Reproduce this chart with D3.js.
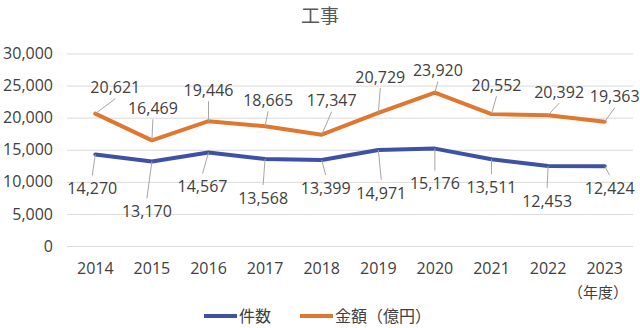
<!DOCTYPE html>
<html>
<head>
<meta charset="utf-8">
<script src="https://cdn.jsdelivr.net/npm/d3@7"></script>
<style>
  html, body { margin: 0; padding: 0; background: #fff; }
  svg { display: block; font-family: "Open Sans", "Noto Sans CJK JP", sans-serif; }
</style>
</head>
<body>
<svg id="chart" width="640" height="328"></svg>
<script>
// 工事: 件数 and 金額 by fiscal year
const years = ["2014", "2015", "2016", "2017", "2018", "2019", "2020", "2021", "2022", "2023"];
const counts = [14270, 13170, 14567, 13568, 13399, 14971, 15176, 13511, 12453, 12424];
const amounts = [20621, 16469, 19446, 18665, 17347, 20729, 23920, 20552, 20392, 19363];
const yTicks = [0, 5000, 10000, 15000, 20000, 25000, 30000];
const seriesNames = ["件数", "金額（億円）"];

// label placement relative to each point (px)
const countLabelOffsets = [[-3, 34], [-5, 50], [-6, 34], [-2, 39], [4, 28], [3, 43], [0, 35], [0, 28], [-1, 35], [5, 22]];
const amountLabelOffsets = [[20, -26], [1, -32], [0, -31], [3, -26], [10, -34], [2, -36], [3, -22], [5, -29], [11, -23], [10, -25]];

const colors = { count: "#3f51a5", amount: "#e0772f", grid: "#d9d9d9", text: "#404040", leader: "#a6a6a6" };

const svg = d3.select("#chart");
const plotLeft = 67, plotRight = 633, plotTop = 53.5, plotBottom = 246;

const x = d3.scaleBand().domain(years).range([plotLeft, plotRight]);
const y = d3.scaleLinear().domain([0, 30000]).range([plotBottom, plotTop]);
const cx = d => x(d) + x.bandwidth() / 2;
const fmt = d3.format(",");

// title
svg.append("text")
  .attr("x", 320).attr("y", 23)
  .attr("text-anchor", "middle")
  .attr("font-family", "'Noto Sans CJK JP', sans-serif")
  .attr("font-size", 19)
  .attr("fill", "#595959")
  .text("工事");

// gridlines + y axis labels
const yAxis = d3.axisLeft(y).tickValues(yTicks).tickFormat(fmt)
  .tickSize(-(plotRight - plotLeft)).tickPadding(14);
const gy = svg.append("g").attr("transform", `translate(${plotLeft},0)`).call(yAxis);
gy.select(".domain").remove();
gy.selectAll(".tick line").attr("stroke", colors.grid).attr("stroke-width", 1);
gy.selectAll(".tick text")
  .attr("font-size", 16).attr("fill", colors.text)
  .attr("font-family", "'Open Sans', sans-serif");

// x axis labels
const xAxis = d3.axisBottom(x).tickSize(0).tickPadding(17);
const gx = svg.append("g").attr("transform", `translate(0,${plotBottom})`).call(xAxis);
gx.select(".domain").remove();
gx.selectAll(".tick text")
  .attr("font-size", 16).attr("fill", colors.text)
  .attr("font-family", "'Open Sans', sans-serif");

svg.append("text")
  .attr("x", 598).attr("y", 298)
  .attr("text-anchor", "middle")
  .attr("font-family", "'Noto Sans CJK JP', sans-serif")
  .attr("font-size", 15).attr("fill", colors.text)
  .text("（年度）");

// series
const series = [
  { key: "amount", values: amounts, offsets: amountLabelOffsets, color: colors.amount },
  { key: "count", values: counts, offsets: countLabelOffsets, color: colors.count }
];

const line = d3.line().x(d => cx(d.year)).y(d => y(d.value));

series.forEach(s => {
  const pts = years.map((yr, i) => ({ year: yr, value: s.values[i], off: s.offsets[i] }));
  svg.append("path")
    .datum(pts)
    .attr("d", line)
    .attr("fill", "none")
    .attr("stroke", s.color)
    .attr("stroke-width", 4)
    .attr("stroke-linejoin", "round")
    .attr("stroke-linecap", "round");

  const g = svg.append("g");
  pts.forEach(p => {
    const px = cx(p.year), py = y(p.value);
    const lx = px + p.off[0], ly = py + p.off[1];
    const above = p.off[1] < 0;
    // leader line from point to label edge
    const ey = above ? ly + 11 : ly - 13;
    if (Math.abs(ey - py) > 4) {
      g.append("line")
        .attr("x1", px).attr("y1", py)
        .attr("x2", lx).attr("y2", ey)
        .attr("stroke", colors.leader).attr("stroke-width", 1);
    }
    g.append("text")
      .attr("x", lx).attr("y", ly)
      .attr("dy", "0.35em")
      .attr("text-anchor", "middle")
      .attr("font-size", 16)
      .attr("fill", colors.text)
      .text(fmt(p.value));
  });
});

// legend
const legend = svg.append("g").attr("transform", "translate(0,316)");
const legendItems = [
  { name: seriesNames[0], color: colors.count, x: 204 },
  { name: seriesNames[1], color: colors.amount, x: 300 }
];
legendItems.forEach(item => {
  legend.append("line")
    .attr("x1", item.x).attr("x2", item.x + 33)
    .attr("y1", 0).attr("y2", 0)
    .attr("stroke", item.color).attr("stroke-width", 4);
  legend.append("text")
    .attr("x", item.x + 35).attr("y", 0)
    .attr("dy", "0.35em")
    .attr("font-family", "'Noto Sans CJK JP', sans-serif")
    .attr("font-size", 16).attr("fill", colors.text)
    .text(item.name);
});
</script>
</body>
</html>
